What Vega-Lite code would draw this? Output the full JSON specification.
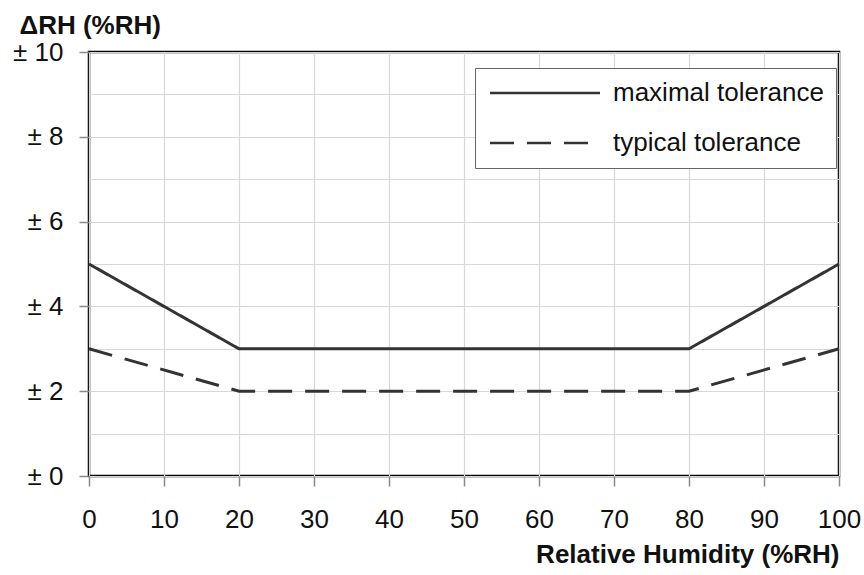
{
  "$schema": "https://vega.github.io/schema/vega-lite/v6.json",
  "width": 750,
  "height": 424,
  "autosize": {"type": "none"},
  "padding": {"left": 89, "top": 52, "right": 25, "bottom": 99},
  "background": "white",
  "config": {
    "font": "Liberation Sans",
    "view": {"stroke": "black", "strokeWidth": 2.5},
    "axis": {"labelFont": "Liberation Sans", "titleFont": "Liberation Sans", "labelColor": "#111", "titleColor": "#111"}
  },
  "data": {
    "values": [
      {"rh": 0, "tol": 5, "series": "maximal tolerance"},
      {"rh": 20, "tol": 3, "series": "maximal tolerance"},
      {"rh": 80, "tol": 3, "series": "maximal tolerance"},
      {"rh": 100, "tol": 5, "series": "maximal tolerance"},
      {"rh": 0, "tol": 3, "series": "typical tolerance"},
      {"rh": 20, "tol": 2, "series": "typical tolerance"},
      {"rh": 80, "tol": 2, "series": "typical tolerance"},
      {"rh": 100, "tol": 3, "series": "typical tolerance"}
    ]
  },
  "mark": {"type": "line", "color": "#333", "strokeWidth": 3},
  "encoding": {
    "x": {
      "field": "rh", "type": "quantitative",
      "scale": {"domain": [0, 100], "nice": false},
      "axis": {
        "values": [0, 10, 20, 30, 40, 50, 60, 70, 80, 90, 100],
        "title": "Relative Humidity (%RH)",
        "titleFontSize": 26, "titleFontWeight": "bold",
        "titleAnchor": "end", "titleAlign": "right", "titleBaseline": "alphabetic",
        "titleY": 86, "titleX": 750,
        "labelFontSize": 26, "labelPadding": 20, "labelFlush": false,
        "tickSize": 10, "tickColor": "#888", "tickWidth": 1.5,
        "domain": false,
        "grid": true, "gridColor": "#d8d8d8", "gridWidth": 1.2
      }
    },
    "y": {
      "field": "tol", "type": "quantitative",
      "scale": {"domain": [0, 10], "nice": false},
      "axis": {
        "values": [0, 1, 2, 3, 4, 5, 6, 7, 8, 9, 10],
        "labelExpr": "datum.value % 2 === 0 ? '± ' + datum.value : ''",
        "title": "ΔRH (%RH)",
        "titleFontSize": 26, "titleFontWeight": "bold",
        "titleAngle": 0, "titleAlign": "left", "titleBaseline": "alphabetic",
        "titleX": -70, "titleY": -19,
        "labelFontSize": 26, "labelPadding": 16, "labelBaseline": "middle",
        "tickSize": 10, "tickColor": "#888", "tickWidth": 1.5,
        "tickOpacity": {"condition": {"test": "datum.value % 2 === 1", "value": 0}, "value": 1},
        "domain": false,
        "grid": true, "gridColor": "#d8d8d8", "gridWidth": 1.2
      }
    },
    "strokeDash": {
      "field": "series", "type": "nominal",
      "scale": {"domain": ["maximal tolerance", "typical tolerance"], "range": [[1, 0], [24, 13]]},
      "legend": {
        "title": null,
        "orient": "none", "legendX": 386, "legendY": 16,
        "direction": "vertical",
        "strokeColor": "#666", "fillColor": "white",
        "padding": 12,
        "symbolType": "M-5,0H5", "symbolSize": 484,
        "symbolOffset": 45,
        "symbolFillColor": "transparent",
        "symbolStrokeColor": "#333", "symbolStrokeWidth": 2.5,
        "labelFont": "Liberation Sans", "labelFontSize": 26, "labelColor": "#111",
        "labelOffset": 55, "rowPadding": 24, "labelLimit": 400
      }
    }
  }
}
